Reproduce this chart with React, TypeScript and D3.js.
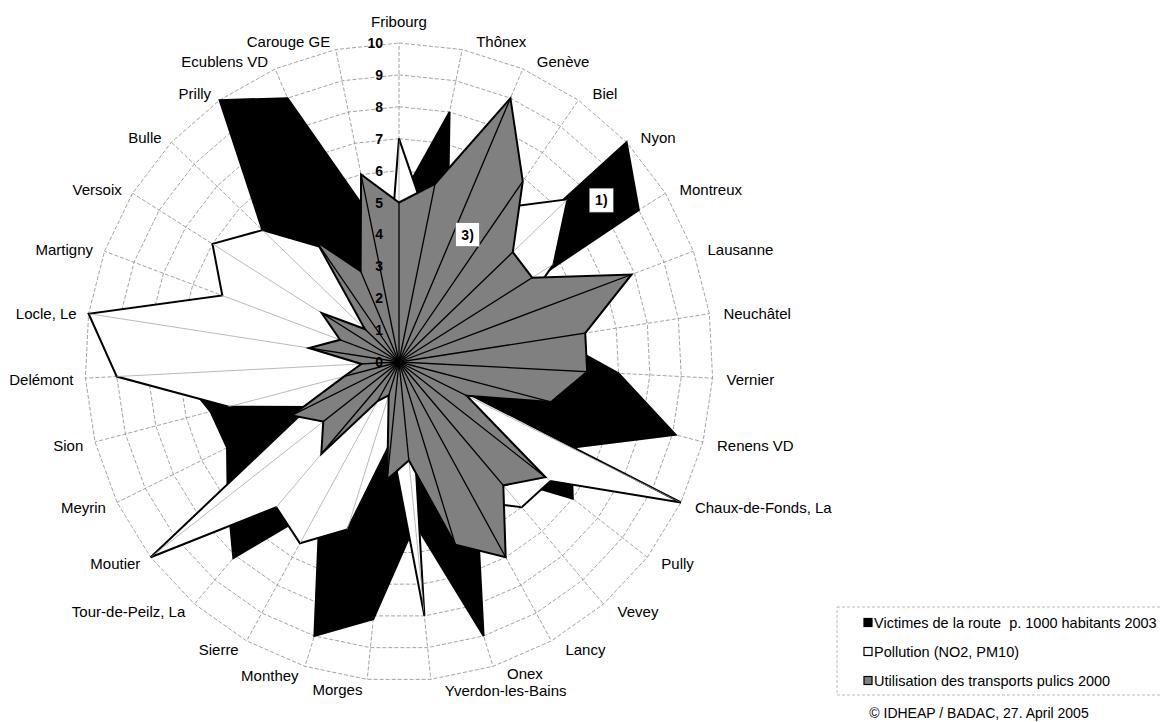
import React, { useRef, useEffect } from 'react';
import * as d3 from 'd3';

// communes (clockwise from top)
const categories = [
  'Fribourg', 'Thônex', 'Genève', 'Biel', 'Nyon', 'Montreux', 'Lausanne', 'Neuchâtel',
  'Vernier', 'Renens VD', 'Chaux-de-Fonds, La', 'Pully', 'Vevey', 'Lancy', 'Onex',
  'Yverdon-les-Bains', 'Morges', 'Monthey', 'Sierre', 'Tour-de-Peilz, La', 'Moutier',
  'Meyrin', 'Sion', 'Delémont', 'Locle, Le', 'Martigny', 'Versoix', 'Bulle', 'Prilly',
  'Ecublens VD', 'Carouge GE',
];

// Victimes de la route p. 1000 habitants 2003
const victimes = [5.0, 8.0, 3.9, 1.3, 10, 9.0, 1.0, 5.0, 7.0, 9.1, 6.1, 7.0, 4.7, 5.1, 9.0, 5.1,
  8.1, 9.0, 5.2, 8.1, 6.9, 6.1, 6.2, 7.0, 5.0, 4.0, 5.0, 6.0, 10, 9.0, 4.7];

// Pollution (NO2, PM10)
const pollution = [7.0, 4.5, 5.0, 5.9, 7.4, 5.8, 4.0, 3.0, 2.0, 0.5, 10, 6.1, 6.0, 5.0, 1.4, 8.0,
  2.5, 5.5, 6.5, 6.0, 10, 3.2, 5.6, 9.0, 10, 6.0, 7.0, 6.0, 4.4, 3.0, 2.0];

// Utilisation des transports publics 2000
const transports = [5.0, 5.7, 9.0, 6.9, 5.0, 5.0, 7.9, 6.0, 6.0, 5.0, 2.4, 5.9, 5.1, 7.0, 6.0, 3.1,
  3.7, 1.1, 1.4, 3.8, 3.05, 3.8, 1.8, 1.2, 2.9, 2.0, 2.9, 1.5, 4.6, 3.1, 6.0];

const ticks = [0, 1, 2, 3, 4, 5, 6, 7, 8, 9, 10];

const legendItems = [
  { label: 'Victimes de la route  p. 1000 habitants 2003', fill: '#000' },
  { label: 'Pollution (NO2, PM10)', fill: '#fff' },
  { label: 'Utilisation des transports pulics 2000', fill: '#808080' },
];

// renvois placés en coordonnées polaires (catégorie fractionnaire, valeur)
const notes = [
  { text: '3)', cat: 2.47, value: 4.55 },
  { text: '1)', cat: 4.46, value: 8.2 },
];

const W = 1160;
const H = 722;
const FONT = '"Liberation Sans", Arial, sans-serif';

// petits décalages verticaux pour les étiquettes serrées du bas
const labelNudge: Record<string, number> = { 'Onex': -2, 'Yverdon-les-Bains': 1.5 };

const App = () => {
  const svgRef = useRef<SVGSVGElement>(null);

  useEffect(() => {
    const svg = d3.select(svgRef.current);
    svg.selectAll('*').remove();

    const cx = 399, cy = 362, rx = 314, ry = 319;
    const n = categories.length;
    const rScale = d3.scaleLinear().domain([0, 10]).range([0, 1]);
    const aScale = d3.scaleLinear().domain([0, n]).range([0, 2 * Math.PI]);

    const pt = (i: number, v: number): [number, number] => {
      const a = aScale(i);
      return [cx + rx * rScale(v) * Math.sin(a), cy - ry * rScale(v) * Math.cos(a)];
    };

    const poly = d3.line().curve(d3.curveLinearClosed);
    const seriesPath = (vals: number[]) => poly(vals.map((v, i) => pt(i, v)));

    const defs = svg.append('defs');
    defs.append('clipPath').attr('id', 'clip-gray')
      .append('path').attr('d', seriesPath(transports));
    defs.append('clipPath').attr('id', 'clip-white')
      .append('path').attr('d', seriesPath(pollution));

    // grille
    const grid = svg.append('g');
    ticks.filter(t => t > 0).forEach(t => {
      grid.append('path')
        .attr('d', poly(d3.range(n).map(i => pt(i, t))))
        .attr('fill', 'none')
        .attr('stroke', '#8c8c8c')
        .attr('stroke-width', 0.8)
        .attr('stroke-dasharray', '4,2');
    });
    d3.range(n).forEach(i => {
      const [x, y] = pt(i, 10);
      grid.append('line')
        .attr('x1', cx).attr('y1', cy).attr('x2', x).attr('y2', y)
        .attr('stroke', '#8c8c8c')
        .attr('stroke-width', 0.8)
        .attr('stroke-dasharray', '4,2');
    });

    // séries : noir derrière, blanc, gris devant
    const series = [
      { vals: victimes, fill: '#000' },
      { vals: pollution, fill: '#fff' },
      { vals: transports, fill: '#808080' },
    ];
    series.forEach((s, k) => {
      svg.append('path')
        .attr('d', seriesPath(s.vals))
        .attr('fill', s.fill)
        .attr('stroke', '#000')
        .attr('stroke-width', 2)
        .attr('stroke-linejoin', 'miter');

      if (k === 1) {
        // rayons clairs visibles dans la zone blanche
        const gw = svg.append('g').attr('clip-path', 'url(#clip-white)');
        d3.range(n).forEach(i => {
          const [x, y] = pt(i, 10);
          gw.append('line')
            .attr('x1', cx).attr('y1', cy).attr('x2', x).attr('y2', y)
            .attr('stroke', '#a8a8a8')
            .attr('stroke-width', 0.8);
        });
      }
    });

    // rayons noirs dans la zone grise
    const gg = svg.append('g').attr('clip-path', 'url(#clip-gray)');
    d3.range(n).forEach(i => {
      const [x, y] = pt(i, 10);
      gg.append('line')
        .attr('x1', cx).attr('y1', cy).attr('x2', x).attr('y2', y)
        .attr('stroke', '#000')
        .attr('stroke-width', 1.3);
    });
    svg.append('circle').attr('cx', cx).attr('cy', cy).attr('r', 5).attr('fill', '#000');

    // valeurs de l'axe
    svg.selectAll('.tick-label')
      .data(ticks)
      .enter()
      .append('text')
      .attr('x', cx - 16)
      .attr('y', d => pt(0, d)[1])
      .attr('text-anchor', 'end')
      .attr('dominant-baseline', 'central')
      .style('font-family', FONT)
      .style('font-size', '14px')
      .style('font-weight', 'bold')
      .style('fill', '#000')
      .text(d => d);

    // étiquettes des communes
    svg.selectAll('.cat-label')
      .data(categories)
      .enter()
      .append('text')
      .each(function (d, i) {
        const a = aScale(i);
        const s = Math.sin(a), c = Math.cos(a);
        const [x, y] = pt(i, 10);
        const t = d3.select(this);
        const dy = labelNudge[d] || 0;
        if (i === 0) {
          t.attr('x', x).attr('y', y - 22).attr('text-anchor', 'middle');
        } else if (s > 0) {
          t.attr('x', x + 14).attr('y', y - 9 * c + 1 + dy).attr('text-anchor', 'start');
        } else {
          t.attr('x', x - (4 + 8 * Math.abs(s))).attr('y', y - 9 * c + 1 + dy).attr('text-anchor', 'end');
        }
      })
      .attr('dominant-baseline', 'central')
      .style('font-family', FONT)
      .style('font-size', '15px')
      .style('fill', '#000')
      .text(d => d);

    // renvois 1) et 3)
    notes.forEach(nt => {
      const [x, y] = pt(nt.cat, nt.value);
      svg.append('rect')
        .attr('x', x - 12).attr('y', y - 12)
        .attr('width', 24).attr('height', 24)
        .attr('fill', '#fff')
        .attr('stroke', '#666')
        .attr('stroke-width', 0.6);
      svg.append('text')
        .attr('x', x).attr('y', y)
        .attr('text-anchor', 'middle')
        .attr('dominant-baseline', 'central')
        .style('font-family', FONT)
        .style('font-size', '14px')
        .style('font-weight', 'bold')
        .text(nt.text);
    });

    // légende
    const lg = svg.append('g');
    lg.append('rect')
      .attr('x', 837).attr('y', 607)
      .attr('width', 340).attr('height', 88)
      .attr('fill', 'none')
      .attr('stroke', '#aaa')
      .attr('stroke-width', 0.8)
      .attr('stroke-dasharray', '3,2');
    legendItems.forEach((d, i) => {
      const y = 622.5 + i * 29;
      lg.append('rect')
        .attr('x', 864).attr('y', y - 4)
        .attr('width', 8).attr('height', 8)
        .attr('fill', d.fill)
        .attr('stroke', '#000')
        .attr('stroke-width', 1.2);
      lg.append('text')
        .attr('x', 874).attr('y', y)
        .attr('dominant-baseline', 'central')
        .style('font-family', FONT)
        .style('font-size', '14.5px')
        .style('white-space', 'pre')
        .style('fill', '#000')
        .text(d.label);
    });

    svg.append('text')
      .attr('x', 979).attr('y', 718)
      .attr('text-anchor', 'middle')
      .style('font-family', FONT)
      .style('font-size', '14px')
      .style('fill', '#000')
      .text('© IDHEAP / BADAC, 27. April 2005');
  }, []);

  return (
    <svg
      ref={svgRef}
      width={W}
      height={H}
      style={{ position: 'absolute', left: 0, top: 0, background: '#fff', display: 'block' }}
    />
  );
};

export default App;
